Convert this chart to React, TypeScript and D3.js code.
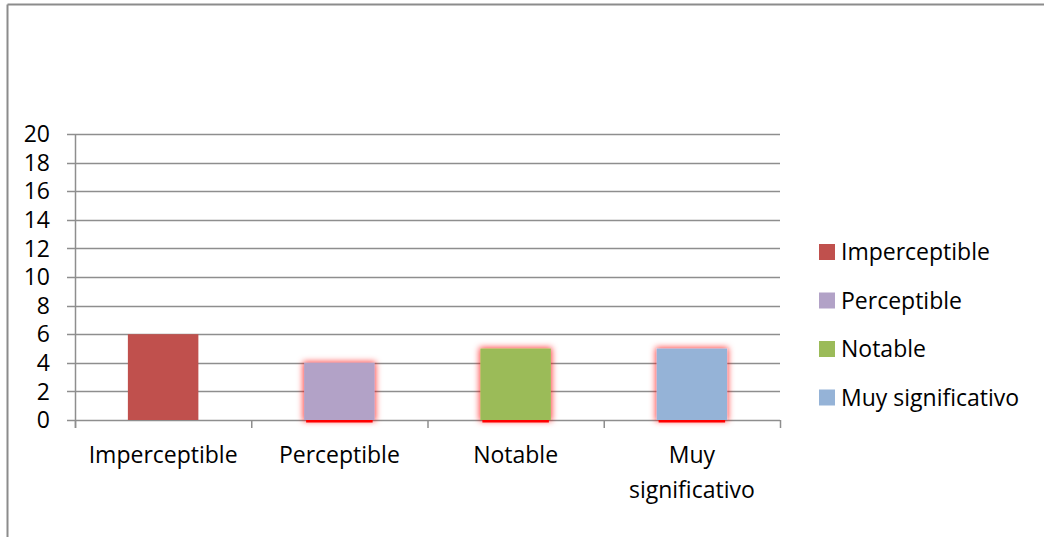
import React from "react";
import * as d3 from "d3";

const categories = ["Imperceptible", "Perceptible", "Notable", "Muy significativo"];
const categoryLines = [["Imperceptible"], ["Perceptible"], ["Notable"], ["Muy", "significativo"]];
const values = [6, 4, 5, 5];
const colors = ["#C0504D", "#B2A2C7", "#9BBB59", "#95B3D7"];
const glow = [false, true, true, true];
const yTicks = [0, 2, 4, 6, 8, 10, 12, 14, 16, 18, 20];

const W = 1044, H = 537;
const left = 75, right = 780, top = 134, bottom = 420;
const FONT = "'Open Sans', sans-serif";
const FS = 23;

export default function App() {
  const x = d3.scaleBand<string>().domain(categories).range([left, right]).paddingInner(0.6).paddingOuter(0.3);
  const xb = d3.scaleBand<string>().domain(categories).range([left, right]);
  const y = d3.scaleLinear().domain([0, 20]).range([bottom, top]);
  return (
    <svg width={W} height={H} style={{ position: "absolute", left: 0, top: 0, background: "#fff" }} fontFamily={FONT}>
      <defs>
        <filter id="glow" x="-30%" y="-30%" width="160%" height="160%">
          <feMorphology in="SourceAlpha" operator="dilate" radius="1" result="d" />
          <feGaussianBlur in="d" stdDeviation="3" result="b" />
          <feFlood floodColor="#ff0000" floodOpacity="0.75" />
          <feComposite in2="b" operator="in" result="g" />
          <feMerge>
            <feMergeNode in="g" />
            <feMergeNode in="SourceGraphic" />
          </feMerge>
        </filter>
      </defs>
      {/* frame */}
      <line x1={7.5} y1={4.5} x2={W} y2={4.5} stroke="#8c8c8c" strokeWidth={2} />
      <line x1={7.5} y1={4.5} x2={7.5} y2={H} stroke="#8c8c8c" strokeWidth={2} />
      {/* gridlines */}
      {yTicks.map((t) => (
        <line key={t} x1={left - 8} x2={right} y1={Math.round(y(t)) + 0.5} y2={Math.round(y(t)) + 0.5} stroke="#8e8e8e" strokeWidth={1.5} />
      ))}
      {/* y axis */}
      <line x1={left + 0.5} x2={left + 0.5} y1={top} y2={bottom + 8} stroke="#8e8e8e" strokeWidth={1.5} />
      {yTicks.map((t) => (
        <text key={t} x={50} y={y(t)} dy="0.36em" textAnchor="end" fontSize={FS} fill="#000">{t}</text>
      ))}
      {/* x ticks */}
      {categories.concat(["end"]).map((c, i) => {
        const px = i < categories.length ? (xb(c) as number) : right;
        return <line key={c} x1={px + 0.5} x2={px + 0.5} y1={bottom} y2={bottom + 8} stroke="#8e8e8e" strokeWidth={1.5} />;
      })}
      {/* bars */}
      {categories.map((c, i) => (
        <g key={c}>
          <rect x={x(c)} y={y(values[i])} width={x.bandwidth()} height={bottom - y(values[i])} fill={colors[i]} filter={glow[i] ? "url(#glow)" : undefined} />
          {glow[i] && (
            <rect x={(x(c) as number) + 2} y={bottom} width={x.bandwidth() - 4} height={2.5} fill="#ff0000" />
          )}
        </g>
      ))}
      {/* category labels */}
      {categories.map((c, i) => (
        <text key={c} x={(xb(c) as number) + xb.bandwidth() / 2} y={455} textAnchor="middle" fontSize={FS} fill="#000">
          {categoryLines[i].map((l, j) => (
            <tspan key={j} x={(xb(c) as number) + xb.bandwidth() / 2} dy={j === 0 ? "0.36em" : 35}>{l}</tspan>
          ))}
        </text>
      ))}
      {/* legend */}
      {categories.map((c, i) => {
        const ly = 252 + i * 48.5;
        return (
          <g key={c}>
            <rect x={819} y={ly - 8} width={16} height={16} fill={colors[i]} />
            <text x={841} y={ly} dy="0.36em" fontSize={FS} fill="#000">{c}</text>
          </g>
        );
      })}
    </svg>
  );
}
